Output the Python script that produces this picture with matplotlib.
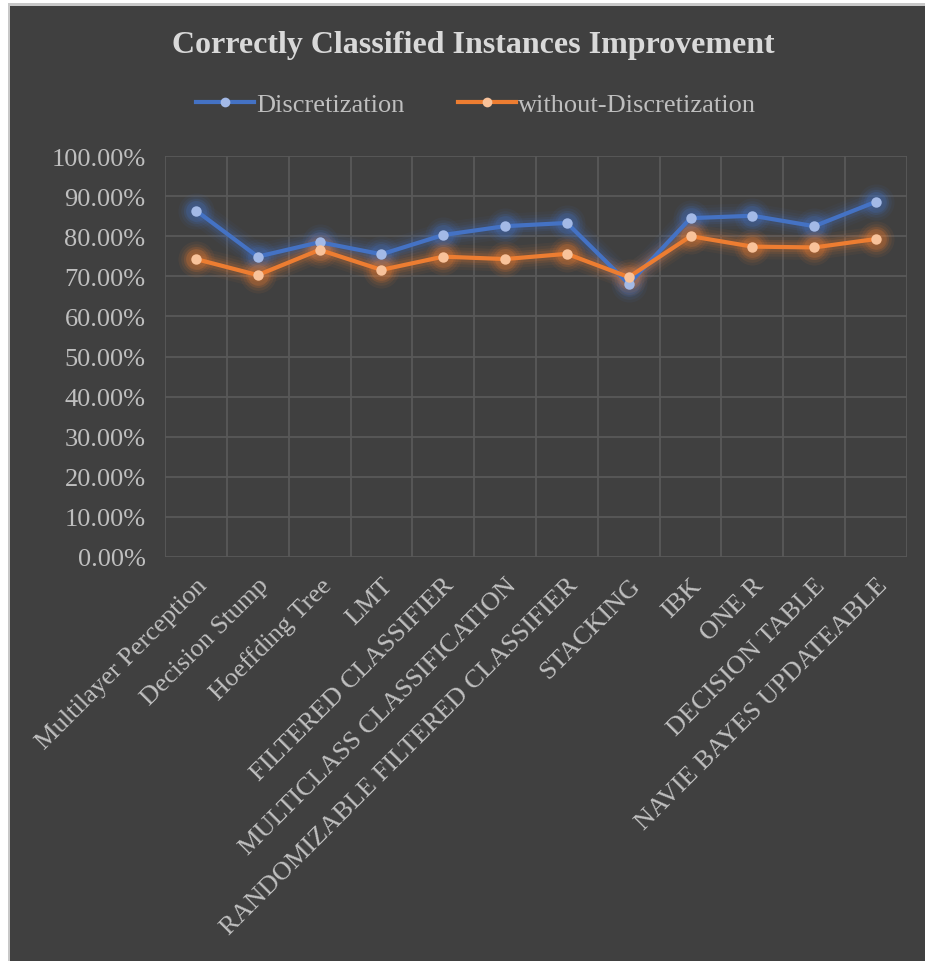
import matplotlib
matplotlib.use("Agg")
import matplotlib.pyplot as plt
from matplotlib.ticker import PercentFormatter, MultipleLocator, FixedLocator
from matplotlib.patches import Rectangle
from matplotlib.lines import Line2D

categories = ["Multilayer Perception", "Decision Stump", "Hoeffding Tree", "LMT",
              "FILTERED CLASSIFIER", "MULTICLASS CLASSIFICATION",
              "RANDOMIZABLE FILTERED CLASSIFIER", "STACKING", "IBK", "ONE R",
              "DECISION TABLE", "NAVIE BAYES UPDATEABLE"]
discretization = [86.4, 74.9, 78.5, 75.5, 80.3, 82.5, 83.3, 68.1, 84.5, 85.1, 82.5, 88.6]
without_discretization = [74.3, 70.3, 76.6, 71.6, 74.9, 74.3, 75.6, 69.8, 80.0, 77.4, 77.2, 79.3]
series_names = ["Discretization", "without-Discretization"]

BG = "#404040"
TXT = "#bfbfbf"
GRID = "#595959"
colors = ["#4472C4", "#ED7D31"]
mcolors = ["#a3b9e6", "#f8c29a"]

plt.rcParams["font.family"] = ["Liberation Serif", "DejaVu Serif"]

fig = plt.figure(figsize=(9.25, 9.62), dpi=100, facecolor="white")
W, H = 925, 962
# outer frame
fig.add_artist(Rectangle((8 / W, 0), 1, 1 - 4 / H, transform=fig.transFigure,
                         facecolor="#c8c8c8", edgecolor="none", zorder=-10))
fig.add_artist(Rectangle((10 / W, 0), 1, 1 - 7 / H, transform=fig.transFigure,
                         facecolor=BG, edgecolor="none", zorder=-9))

ax = fig.add_axes([165 / W, 1 - 558 / H, 742 / W, 401 / H])
ax.set_facecolor(BG)
x = list(range(len(categories)))

for vals, c, mc in zip([discretization, without_discretization], colors, mcolors):
    v = [p / 100 for p in vals]
    # glow
    for lw, a in [(18, 0.05), (14, 0.07), (10, 0.10), (7, 0.14)]:
        ax.plot(x, v, color=c, lw=lw, alpha=a, solid_capstyle="round",
                solid_joinstyle="round", zorder=2)
        ax.plot(x, v, ls="none", marker="o", ms=lw + 8, color=c, alpha=a * 1.3,
                markeredgewidth=0, zorder=2)
    ax.plot(x, v, color=c, lw=3, solid_joinstyle="round", zorder=3)
    ax.plot(x, v, ls="none", marker="o", ms=7.5, color=mc, markeredgewidth=0, zorder=4)

ax.set_xlim(-0.5, len(categories) - 0.5)
ax.set_ylim(0, 1)
ax.yaxis.set_major_locator(MultipleLocator(0.1))
ax.yaxis.set_major_formatter(PercentFormatter(1.0, decimals=2))
ax.xaxis.set_major_locator(FixedLocator(x))
ax.xaxis.set_minor_locator(FixedLocator([i + 0.5 for i in range(-1, len(categories))]))
ax.set_xticklabels(categories, rotation=45, ha="right", va="top",
                   rotation_mode="anchor", color=TXT, fontsize=19)
ax.tick_params(axis="x", which="both", length=0, pad=12)
ax.tick_params(axis="y", length=0, pad=14, labelcolor=TXT, labelsize=19)
ax.grid(axis="y", which="major", color=GRID, lw=1.3)
ax.grid(axis="x", which="minor", color=GRID, lw=1.3)
for s in ax.spines.values():
    s.set_visible(False)

fig.text(473 / W, 1 - 45 / H, "Correctly Classified Instances Improvement", ha="center",
         va="center", fontsize=23, fontweight="bold", color="#d9d9d9")

handles = [Line2D([], [], color=c, lw=3, marker="o", ms=7, markerfacecolor=mc,
                  markeredgewidth=0) for c, mc in zip(colors, mcolors)]
fig.legend(handles, series_names, loc="center", bbox_to_anchor=(476 / W, 1 - 105 / H),
           ncol=2, frameon=False, fontsize=19, labelcolor=TXT, handlelength=2.2,
           handletextpad=0.1, columnspacing=2.0)

fig.savefig("out.png", dpi=100, facecolor=fig.get_facecolor())
